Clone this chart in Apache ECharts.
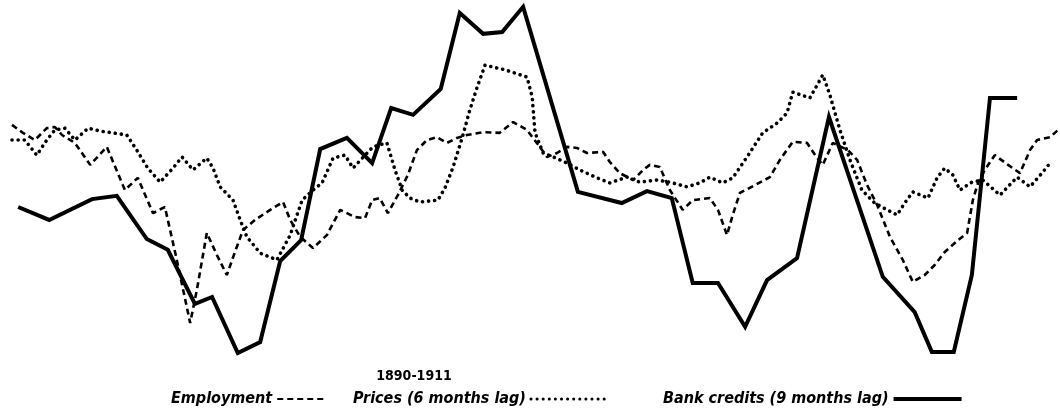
<!DOCTYPE html>
<html lang="en">
<head>
    <meta charset="UTF-8">
    <title>Employment, prices and bank credits 1890-1911</title>
    <script type="text/javascript" src="https://cdn.jsdelivr.net/npm/echarts@6/dist/echarts.min.js"></script>
    <style>
        html, body { margin: 0; padding: 0; background: #fff; }
    </style>
</head>
<body>
<div id="main" style="width: 1060px;height:409px;"></div>

<script type="text/javascript">
    // time in years (fractional), values as a relative index
    var empYears = [1890.00, 1890.23, 1890.48, 1890.73, 1890.90, 1891.05, 1891.32, 1891.64, 1891.99, 1892.37,
        1892.64, 1892.96, 1893.21, 1893.46, 1893.74, 1893.88, 1894.09, 1894.30, 1894.51, 1894.68,
        1894.85, 1895.10, 1895.42, 1895.69, 1895.84, 1896.05, 1896.32, 1896.61, 1896.89, 1897.20,
        1897.41, 1897.56, 1897.72, 1897.89, 1898.10, 1898.31, 1898.50, 1898.71, 1898.92, 1899.13,
        1899.34, 1899.55, 1899.89, 1900.24, 1900.52, 1900.81, 1901.08, 1901.23, 1901.44, 1901.65,
        1901.86, 1902.07, 1902.41, 1902.55, 1902.76, 1903.04, 1903.25, 1903.39, 1903.60, 1903.81,
        1904.08, 1904.29, 1904.65, 1904.82, 1905.01, 1905.13, 1905.28, 1905.60, 1905.91, 1906.12,
        1906.39, 1906.69, 1906.86, 1907.02, 1907.23, 1907.55, 1907.74, 1907.95, 1908.16, 1908.43,
        1908.70, 1908.91, 1909.16, 1909.37, 1909.58, 1909.86, 1910.05, 1910.17, 1910.28, 1910.42,
        1910.63, 1910.91, 1911.16, 1911.37, 1911.52, 1911.79, 1911.96];
    var empValues = [65.3, 63.1, 61.1, 64.4, 64.7, 62.5, 60.3, 54.2, 59.2, 47.2,
        50.6, 40.8, 42.5, 27.8, 10.3, 19.4, 35.3, 29.2, 23.6, 30.0,
        36.1, 38.9, 41.7, 43.9, 38.9, 34.2, 31.1, 34.7, 41.7, 39.7,
        39.4, 44.4, 45.0, 40.8, 45.8, 51.4, 58.3, 61.1, 61.9, 60.3,
        61.7, 62.5, 63.3, 63.1, 66.1, 63.9, 59.2, 56.4, 57.5, 59.2,
        58.9, 57.5, 57.8, 55.0, 51.9, 50.0, 52.8, 54.2, 53.6, 47.2,
        41.7, 44.4, 45.0, 41.7, 34.7, 40.3, 46.4, 48.6, 50.8, 55.6,
        60.6, 60.3, 56.9, 54.2, 60.3, 58.3, 55.6, 48.6, 43.1, 34.2,
        27.8, 21.7, 23.6, 26.4, 30.0, 33.3, 35.3, 44.4, 49.2, 52.8,
        56.9, 54.2, 51.9, 58.3, 61.1, 61.9, 63.9];

    var priceYears = [1890.00, 1890.27, 1890.52, 1890.73, 1890.90, 1891.11, 1891.32, 1891.60, 1891.85, 1892.12,
        1892.41, 1892.62, 1892.85, 1893.11, 1893.38, 1893.57, 1893.80, 1894.09, 1894.22, 1894.37,
        1894.64, 1894.79, 1894.93, 1895.21, 1895.56, 1895.84, 1896.09, 1896.32, 1896.51, 1896.74,
        1896.99, 1897.16, 1897.41, 1897.58, 1897.87, 1898.04, 1898.19, 1898.35, 1898.56, 1898.94,
        1899.09, 1899.26, 1899.45, 1899.61, 1899.76, 1899.93, 1900.35, 1900.81, 1900.92, 1900.98,
        1901.15, 1901.36, 1901.65, 1901.92, 1902.28, 1902.55, 1902.91, 1903.18, 1903.54, 1903.81,
        1904.17, 1904.44, 1904.65, 1904.92, 1905.13, 1905.43, 1905.76, 1906.06, 1906.27, 1906.39,
        1906.75, 1907.02, 1907.17, 1907.38, 1907.59, 1907.84, 1908.11, 1908.37, 1908.58, 1908.74,
        1908.91, 1909.23, 1909.42, 1909.58, 1909.75, 1909.90, 1910.15, 1910.38, 1910.74, 1911.10,
        1911.37, 1911.64, 1911.79];
    var priceValues = [61.1, 61.1, 56.9, 61.1, 63.9, 64.4, 61.1, 64.4, 63.6, 63.1,
        62.5, 58.3, 53.3, 49.4, 53.3, 56.4, 52.8, 56.1, 53.3, 48.1,
        44.4, 38.9, 34.2, 29.7, 27.8, 34.7, 44.4, 47.2, 49.2, 56.1,
        56.9, 53.3, 56.9, 59.2, 60.3, 52.8, 47.2, 45.0, 43.9, 44.4,
        47.8, 53.6, 61.7, 69.4, 75.6, 81.9, 80.6, 78.6, 73.1, 63.1,
        57.5, 56.4, 54.7, 52.8, 50.6, 49.2, 50.8, 49.4, 50.0, 49.4,
        48.1, 49.2, 50.8, 49.2, 50.6, 56.4, 63.1, 65.8, 68.6, 74.4,
        72.8, 79.2, 73.6, 63.9, 55.6, 47.2, 43.6, 41.7, 40.3, 43.6,
        46.7, 45.0, 50.6, 53.3, 51.4, 47.2, 49.4, 50.0, 45.8, 50.8,
        48.1, 52.2, 54.7];

    var creditYears = [1890.13, 1890.78, 1891.68, 1892.20, 1892.83, 1893.27, 1893.84, 1894.20, 1894.74, 1895.21,
        1895.63, 1896.07, 1896.47, 1897.03, 1897.56, 1897.96, 1898.42, 1899.00, 1899.40, 1899.89,
        1900.29, 1900.73, 1901.88, 1902.80, 1903.33, 1903.85, 1904.29, 1904.82, 1905.39, 1905.85,
        1906.48, 1907.15, 1908.28, 1908.95, 1909.31, 1909.77, 1910.15, 1910.53, 1911.10];
    var creditValues = [42.5, 38.9, 44.7, 45.6, 33.6, 30.6, 15.6, 17.5, 1.9, 5.0,
        27.5, 33.3, 58.6, 61.7, 54.7, 70.0, 68.1, 75.3, 96.4, 90.6,
        91.1, 98.1, 46.7, 43.6, 46.9, 45.0, 21.4, 21.4, 9.2, 22.2,
        28.3, 67.5, 23.1, 13.3, 2.2, 2.2, 23.6, 72.8, 72.8];

    var seriesNames = ['Employment', 'Prices (6 months lag)', 'Bank credits (9 months lag)'];
    var periodLabel = '1890-1911';

    function pairs(xs, ys) {
        var out = [];
        for (var i = 0; i < xs.length; i++) {
            out.push([xs[i], ys[i]]);
        }
        return out;
    }

    var myChart = echarts.init(document.getElementById('main'));

    var labelFont = "'DejaVu Sans Condensed', 'Liberation Sans Narrow', 'DejaVu Sans', sans-serif";
    var legendText = {
        fontFamily: labelFont,
        fontWeight: 'bold',
        fontStyle: 'italic',
        fontSize: 16,
        color: '#000'
    };

    // one legend per entry so each sits where the original caption has it
    function legendEntry(name, left, iconWidth, lineWidth) {
        return {
            data: [name],
            left: left,
            top: 386,
            align: 'right',
            itemWidth: iconWidth,
            itemHeight: 4,
            itemStyle: {opacity: 0},
            lineStyle: {width: lineWidth},
            selectedMode: false,
            textStyle: legendText
        };
    }

    var option = {
        animation: false,
        backgroundColor: '#fff',
        title: {
            text: periodLabel,
            left: 409,
            top: 364,
            textAlign: 'center',
            textStyle: {
                fontFamily: "'DejaVu Sans Condensed', sans-serif",
                fontWeight: 'bold',
                fontSize: 14,
                color: '#000'
            }
        },
        legend: [
            legendEntry(seriesNames[0], 166, 46, 2),
            legendEntry(seriesNames[1], 348, 74, 3),
            legendEntry(seriesNames[2], 658, 68, 4)
        ],
        grid: {
            left: 12,
            right: 0,
            top: 0,
            bottom: 49
        },
        xAxis: {
            type: 'value',
            min: 1890,
            max: 1912,
            show: false
        },
        yAxis: {
            type: 'value',
            min: 0,
            max: 100,
            show: false
        },
        series: [
            {
                name: seriesNames[0],
                type: 'line',
                symbol: 'none',
                clip: false,
                data: pairs(empYears, empValues),
                lineStyle: {
                    color: '#000',
                    width: 2.6,
                    type: [6, 4]
                }
            },
            {
                name: seriesNames[1],
                type: 'line',
                symbol: 'none',
                clip: false,
                data: pairs(priceYears, priceValues),
                lineStyle: {
                    color: '#000',
                    width: 3.6,
                    type: [0.1, 6],
                    cap: 'round'
                }
            },
            {
                name: seriesNames[2],
                type: 'line',
                symbol: 'none',
                clip: false,
                data: pairs(creditYears, creditValues),
                lineStyle: {
                    color: '#000',
                    width: 4,
                    join: 'miter'
                }
            }
        ]
    };

    myChart.setOption(option);
</script>
</body>
</html>
